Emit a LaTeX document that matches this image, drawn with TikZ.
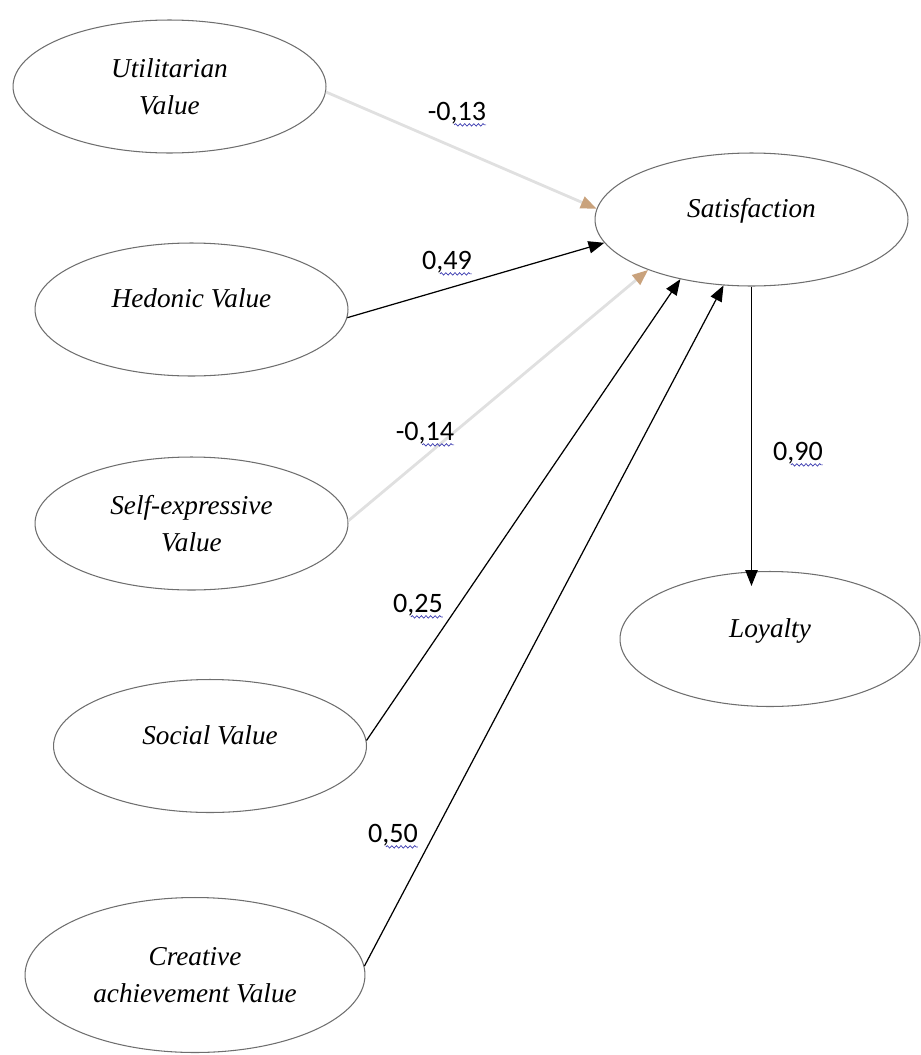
\documentclass[tikz,border=0pt]{standalone}
\usepackage{fontspec}
\setmainfont{Liberation Serif}
\newfontfamily\coeffont{Carlito}
\usetikzlibrary{arrows.meta,shapes.geometric,decorations.pathmorphing}
\definecolor{edge}{HTML}{6E6E6E}
\definecolor{faint}{HTML}{E0E0E0}
\definecolor{headtan}{HTML}{C9A27C}
\definecolor{squig}{HTML}{3B3BB0}
\newcommand{\wig}[1]{\tikz[baseline=(w.base)]{\node[inner sep=0pt,outer sep=0pt,anchor=base] (w) {#1};
  \draw[overlay,squig,line width=0.4pt,decorate,decoration={snake,amplitude=0.7pt,segment length=2.6pt}] ([yshift=-2.6pt,xshift=-2pt]w.base west) -- ([yshift=-2.6pt]w.base east);}}
\tikzset{
  lat/.style={ellipse,draw=edge,line width=0.6pt,minimum width=6.26cm,minimum height=2.66cm,inner sep=0pt,align=center,font=\fontsize{15.5}{21}\selectfont\itshape},
  lat1/.style={lat,text depth=13pt},
  ar/.style={-{Triangle[length=9pt,width=7pt]},line width=0.7pt},
  far/.style={-{Triangle[length=9pt,width=7pt,color=headtan]},line width=1.6pt,draw=faint},
  coef/.style={font=\coeffont\fontsize{16}{18}\selectfont,inner sep=1pt},
}
\begin{document}
\begin{tikzpicture}[x=0.02cm,y=-0.02cm]
\useasboundingbox (0,0) rectangle (920,1055);
% exogenous constructs
\node[lat] (util) at (169.5,86.5) {Utilitarian\\Value};
\node[lat1] (hed) at (191.5,309.5) {Hedonic Value};
\node[lat] (self) at (191.5,523.5) {Self-expressive\\Value};
\node[lat1] (soc) at (210,746) {Social Value};
\node[lat,minimum width=6.8cm,minimum height=3.1cm] (crea) at (195,975) {Creative\\achievement Value};
% endogenous constructs
\node[lat1] (sat) at (751.5,219.5) {Satisfaction};
\node[lat1,minimum width=6cm,minimum height=2.7cm] (loy) at (770,639) {Loyalty};
% paths
\draw[far] (util.-2) -- (sat.176);
\draw[ar] (hed.-3) -- (sat.189);
\draw[far] (self.1) -- (sat.206);
\draw[ar] (soc.2) -- (sat.220);
\draw[ar] (crea.3) -- (sat.247);
\draw[ar,shorten >=-0.3cm] (sat.south) -- (sat.south |- loy.north);
% coefficients
\node[coef] (c1) at (457,113) {-0,\wig{13}};
\node[coef] (c2) at (447,262) {0,\wig{49}};
\node[coef] (c3) at (425,433) {-0,\wig{14}};
\node[coef] (c4) at (418,605) {0,\wig{25}};
\node[coef] (c5) at (393,835) {0,\wig{50}};
\node[coef] (c6) at (798,453) {0,\wig{90}};
\end{tikzpicture}
\end{document}
